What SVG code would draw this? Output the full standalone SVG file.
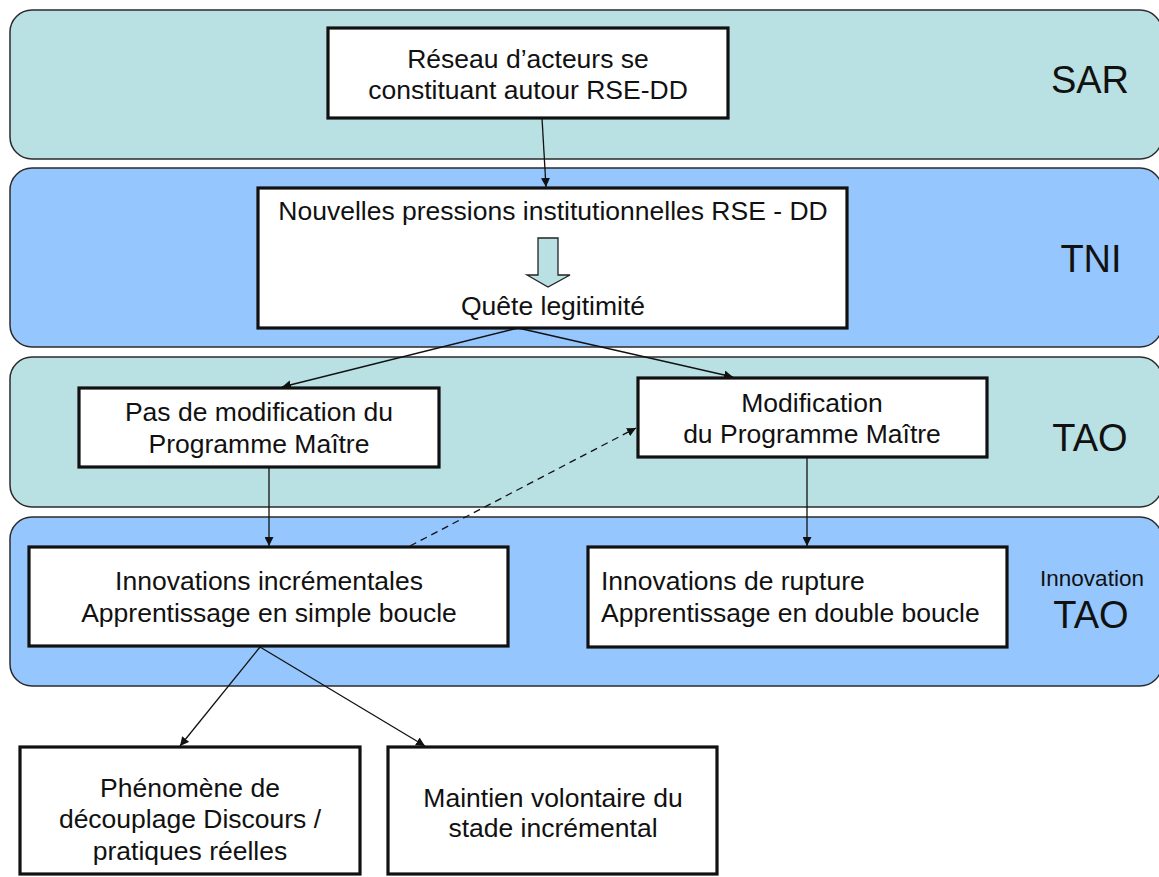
<svg xmlns="http://www.w3.org/2000/svg" width="1159" height="877" viewBox="0 0 1159 877">
  <style>
    .band { stroke: #2b2b2b; stroke-width: 1.5; }
    .teal { fill: #b9e0e2; }
    .blue { fill: #95c6fd; }
    .box { fill: #ffffff; stroke: #111111; stroke-width: 3.2; }
    .t { font-family: "Liberation Sans", Arial, sans-serif; font-size: 26.5px; fill: #111111; }
    .c { text-anchor: middle; }
    .lbl { font-family: "Liberation Sans", Arial, sans-serif; font-size: 38px; fill: #111111; text-anchor: middle; }
    .lbl-s { font-family: "Liberation Sans", Arial, sans-serif; font-size: 22.5px; fill: #111111; text-anchor: middle; }
    .link { fill: none; stroke: #111111; stroke-width: 1.3; marker-end: url(#head); }
    .dash { stroke-dasharray: 7 5; }
  </style>
  <defs>
    <marker id="head" markerUnits="userSpaceOnUse" markerWidth="10" markerHeight="9" refX="9" refY="4.5" orient="auto">
      <path d="M0,0 L9,4.5 L0,9 z" fill="#111111"/>
    </marker>
  </defs>

  <!-- horizontal layers -->
  <g id="layers">
    <g id="layer-sar">
      <rect class="band teal" x="10" y="10" width="1152" height="149" rx="22" ry="22"/>
      <text class="lbl" x="1090" y="93">SAR</text>
    </g>
    <g id="layer-tni">
      <rect class="band blue" x="10" y="168" width="1152" height="179" rx="22" ry="22"/>
      <text class="lbl" x="1091" y="272">TNI</text>
    </g>
    <g id="layer-tao">
      <rect class="band teal" x="10" y="357" width="1152" height="150" rx="22" ry="22"/>
      <text class="lbl" x="1090" y="451">TAO</text>
    </g>
    <g id="layer-innovation">
      <rect class="band blue" x="10" y="517" width="1152" height="169" rx="22" ry="22"/>
      <text class="lbl-s" x="1092" y="586">Innovation</text>
      <text class="lbl" x="1091" y="628">TAO</text>
    </g>
  </g>

  <!-- connectors -->
  <g id="connectors">
    <line class="link" x1="542" y1="118" x2="546" y2="187"/>
    <line class="link" x1="518" y1="328" x2="282" y2="387"/>
    <line class="link" x1="518" y1="328" x2="733" y2="377"/>
    <line class="link" x1="269" y1="467" x2="269" y2="546"/>
    <line class="link" x1="807" y1="457" x2="807" y2="546"/>
    <line class="link dash" x1="410" y1="546" x2="636" y2="428"/>
    <line class="link" x1="260" y1="647" x2="180" y2="746"/>
    <line class="link" x1="260" y1="647" x2="425" y2="746"/>
  </g>

  <!-- nodes -->
  <g id="node-reseau">
    <rect class="box" x="328" y="28" width="400" height="90"/>
    <text class="t c" x="528" y="68">Réseau d’acteurs se</text>
    <text class="t c" x="528" y="99">constituant autour RSE-DD</text>
  </g>

  <g id="node-pressions">
    <rect class="box" x="258" y="188" width="589" height="140"/>
    <text class="t c" x="553" y="220">Nouvelles pressions institutionnelles RSE - DD</text>
    <polygon points="538,238 558,238 558,275 570,275 548,287 527,275 538,275" fill="#b9e0e2" stroke="#222222" stroke-width="1.3"/>
    <text class="t c" x="553" y="315">Quête legitimité</text>
  </g>

  <g id="node-pas-modif">
    <rect class="box" x="79" y="388" width="360" height="79"/>
    <text class="t c" x="259" y="421">Pas de modification du</text>
    <text class="t c" x="259" y="453">Programme Maître</text>
  </g>

  <g id="node-modif">
    <rect class="box" x="638" y="378" width="349" height="79"/>
    <text class="t c" x="812" y="412">Modification</text>
    <text class="t c" x="812" y="443">du Programme Maître</text>
  </g>

  <g id="node-incrementales">
    <rect class="box" x="29" y="547" width="479" height="99"/>
    <text class="t c" x="269" y="590">Innovations incrémentales</text>
    <text class="t c" x="269" y="622">Apprentissage en simple boucle</text>
  </g>

  <g id="node-rupture">
    <rect class="box" x="588" y="547" width="419" height="100"/>
    <text class="t" x="601" y="590">Innovations de rupture</text>
    <text class="t" x="601" y="622">Apprentissage en double boucle</text>
  </g>

  <g id="node-decouplage">
    <rect class="box" x="20" y="747" width="340" height="127"/>
    <text class="t c" x="190" y="797">Phénomène de</text>
    <text class="t c" x="190" y="828">découplage Discours /</text>
    <text class="t c" x="190" y="860">pratiques réelles</text>
  </g>

  <g id="node-maintien">
    <rect class="box" x="388" y="747" width="329" height="127"/>
    <text class="t c" x="553" y="807">Maintien volontaire du</text>
    <text class="t c" x="553" y="837">stade incrémental</text>
  </g>
</svg>
